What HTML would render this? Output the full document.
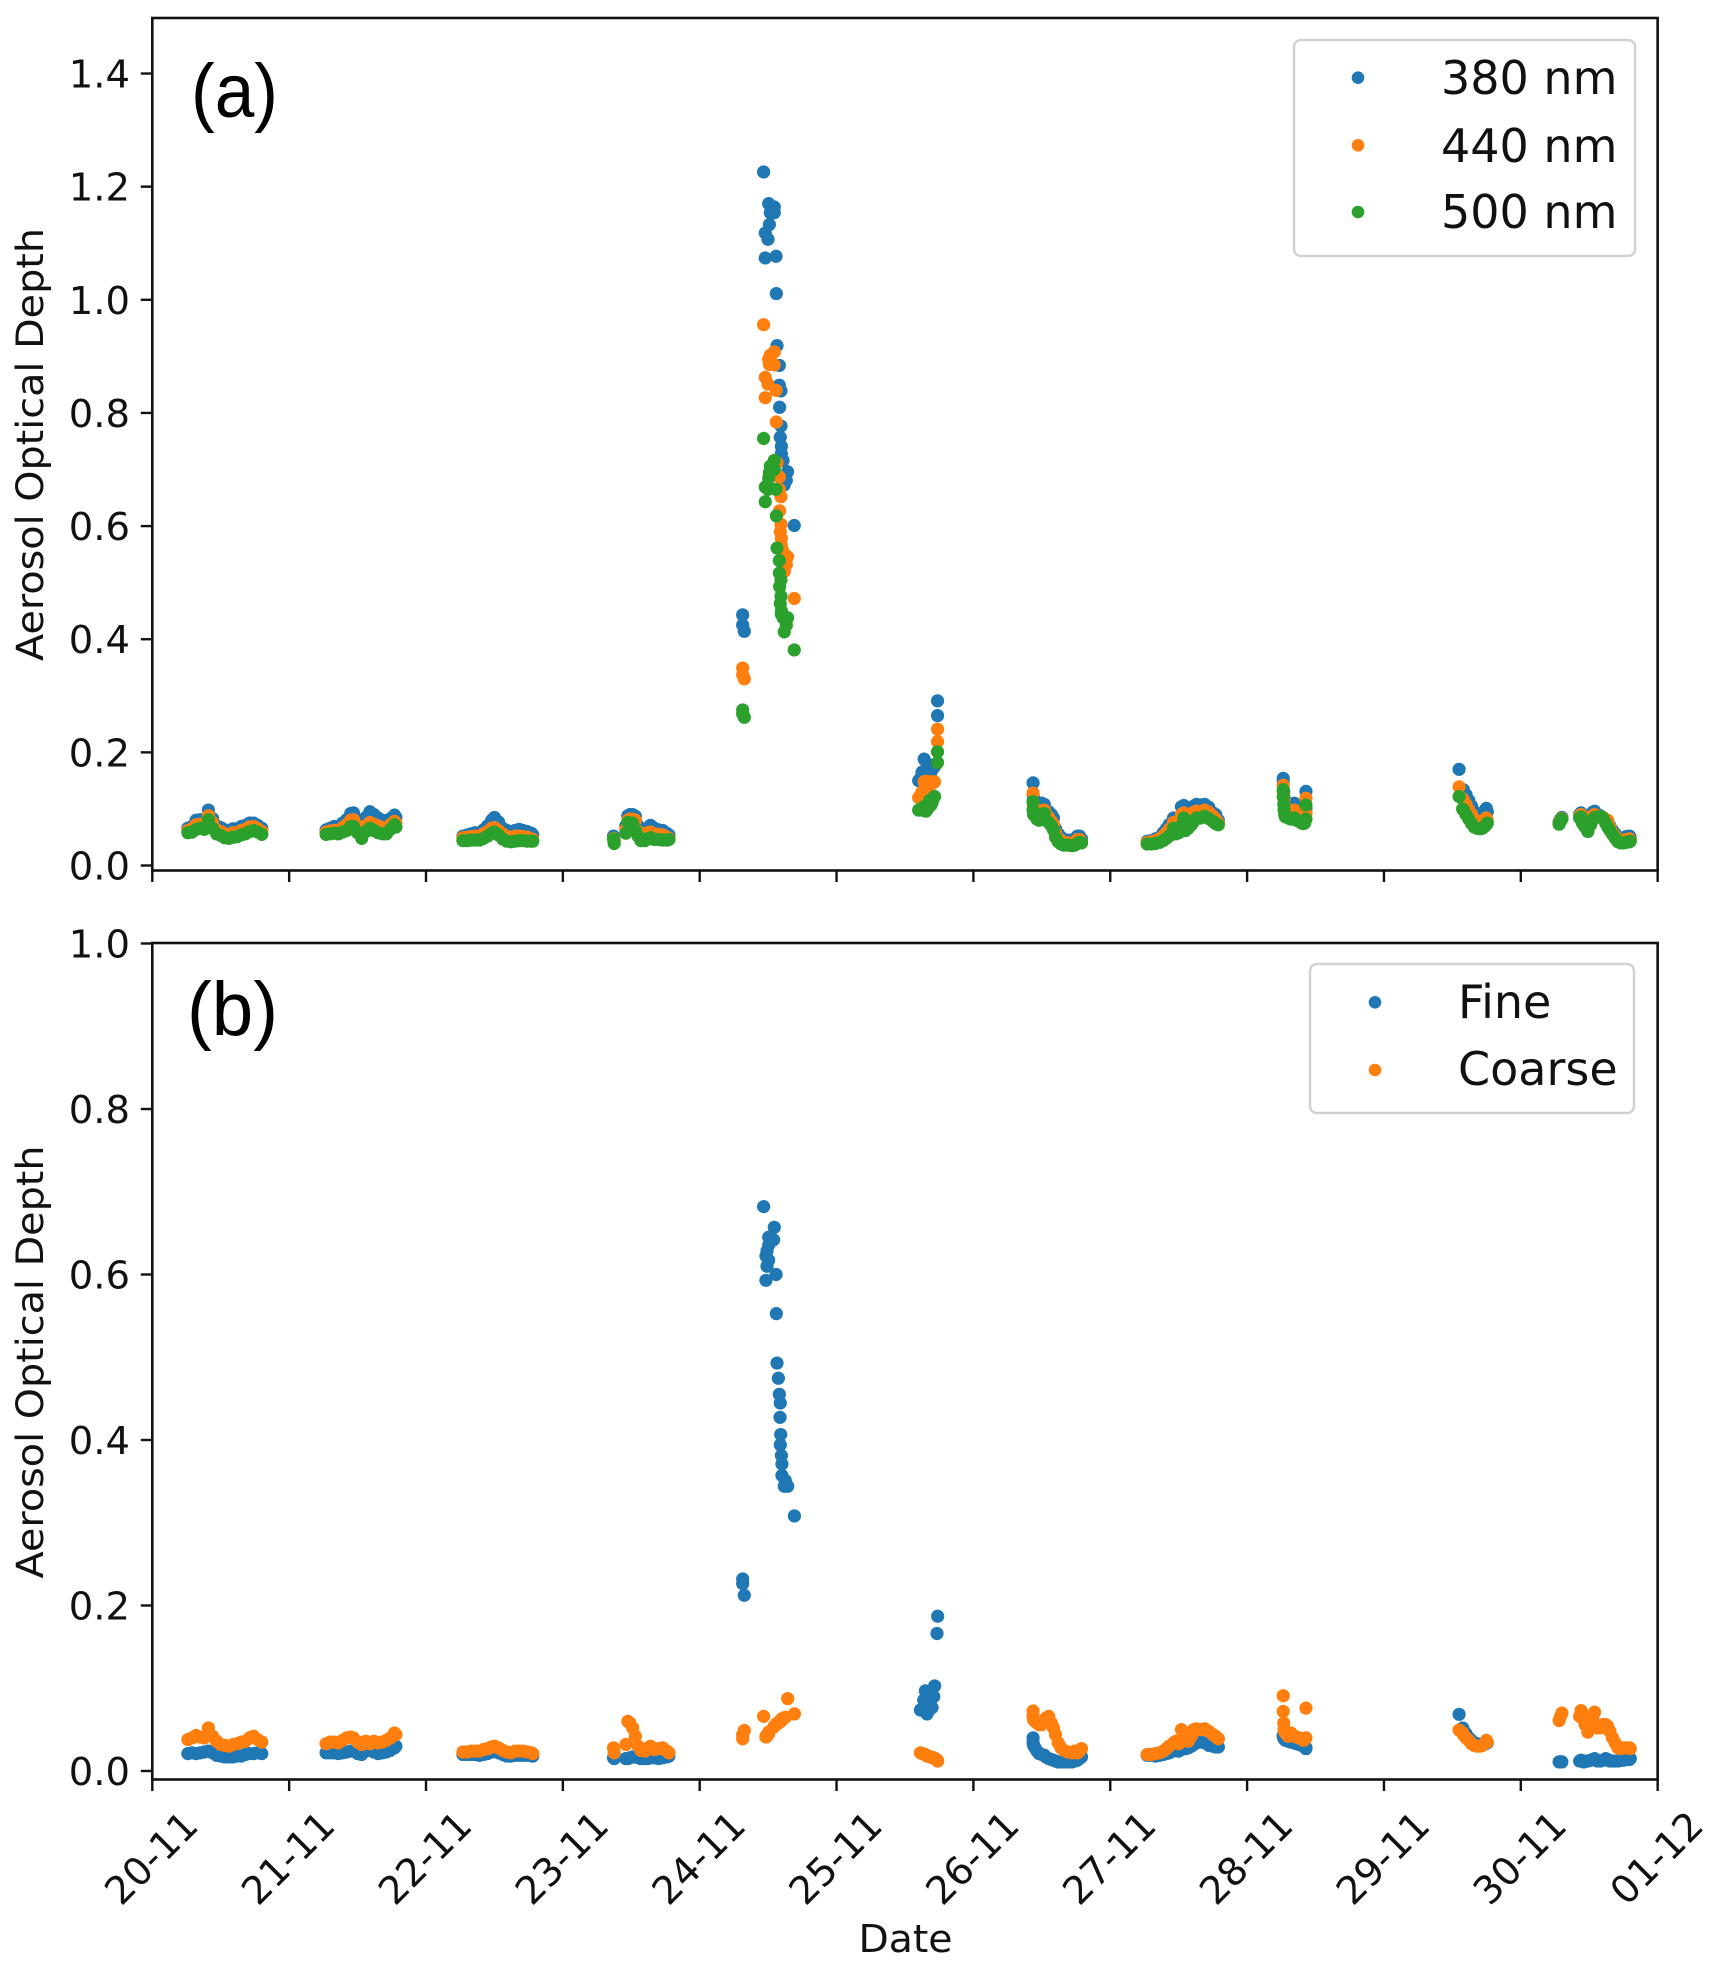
<!DOCTYPE html>
<html lang="en">
<head>
<meta charset="utf-8">
<title>Aerosol Optical Depth</title>
<style>
html,body{margin:0;padding:0;background:#fff;}
svg{display:block;}
text{font-family:"DejaVu Sans","Liberation Sans",sans-serif;fill:#111;}
</style>
</head>
<body>
<svg id="chart" xmlns="http://www.w3.org/2000/svg" width="1721" height="1971" viewBox="0 0 1721 1971">
  <rect x="0" y="0" width="1721" height="1971" fill="#ffffff"/>
  <g id="panelA"></g>
  <g id="panelB"></g>
</svg>
<script>
// Axis labels
const dateLabels = ["20-11","21-11","22-11","23-11","24-11","25-11","26-11","27-11","28-11","29-11","30-11","01-12"];
const yTicksA = [0,0.2,0.4,0.6,0.8,1.0,1.2,1.4];
const yTicksB = [0,0.2,0.4,0.6,0.8,1.0];
const seriesNamesA = ["380 nm","440 nm","500 nm"];
const seriesNamesB = ["Fine","Coarse"];

// Panel (a): time in days since 20-11, one line per observing period
const timesA = [
 .26,.29,.32,.35,.38,.41,.44,.47,.50,.53,.56,.59,.62,.65,.68,.71,.74,.77,.80,
 1.27,1.30,1.33,1.36,1.39,1.42,1.45,1.47,1.50,1.53,1.56,1.59,1.62,1.65,1.68,1.71,1.74,1.77,1.78,
 2.27,2.30,2.33,2.36,2.39,2.42,2.45,2.48,2.50,2.53,2.56,2.59,2.62,2.65,2.68,2.71,2.74,2.77,2.78,
 3.37,3.375,3.46,3.475,3.49,3.51,3.53,3.55,3.57,3.60,3.62,3.64,3.67,3.70,3.73,3.76,3.775,
 4.314,4.314,4.326,4.467,4.504,4.545,4.516,4.545,4.509,4.479,4.499,4.479,4.558,4.560,4.565,4.582,4.582,4.594,4.584,4.594,4.589,4.597,4.597,4.609,4.642,4.633,4.618,4.691,
 5.60,5.615,5.625,5.64,5.653,5.665,5.68,5.69,5.70,5.716,5.738,5.738,
 6.436,6.436,6.44,6.45,6.465,6.48,6.50,6.518,6.53,6.55,6.57,6.585,6.60,6.62,6.64,6.66,6.69,6.72,6.74,6.76,6.775,6.79,
 7.27,7.30,7.33,7.36,7.387,7.41,7.43,7.462,7.48,7.50,7.52,7.537,7.55,7.57,7.593,7.61,7.63,7.66,7.69,7.72,7.75,7.77,7.78,7.79,
 8.264,8.264,8.268,8.27,8.275,8.28,8.30,8.32,8.345,8.36,8.38,8.40,8.41,8.42,8.43,8.43,
 9.549,9.575,9.58,9.60,9.62,9.64,9.66,9.68,9.70,9.72,9.74,9.748,9.755,
 10.28,10.29,10.30,10.43,10.44,10.45,10.46,10.47,10.49,10.51,10.525,10.539,10.56,10.58,10.60,10.62,10.635,10.651,10.67,10.69,10.71,10.73,10.75,10.77,10.794,10.80
];
const aod380 = [
 .066,.069,.080,.081,.076,.098,.083,.070,.067,.063,.062,.065,.065,.069,.071,.075,.075,.071,.066,
 .063,.066,.069,.068,.075,.081,.092,.093,.080,.066,.085,.095,.090,.084,.080,.078,.083,.089,.085,
 .052,.054,.056,.058,.058,.063,.070,.080,.085,.077,.066,.062,.060,.062,.064,.062,.060,.057,.054,
 .052,.045,.070,.088,.090,.090,.087,.070,.060,.060,.066,.071,.066,.063,.062,.057,.054,
 .443,.425,.414,1.226,1.170,1.164,1.154,1.154,1.133,1.118,1.107,1.074,1.077,1.011,.919,.884,.849,.839,.810,.777,.757,.741,.728,.716,.696,.681,.673,.601,
 .150,.155,.165,.188,.170,.160,.178,.165,.170,.175,.265,.291,
 .146,.125,.118,.115,.107,.108,.110,.108,.097,.095,.090,.084,.065,.056,.050,.046,.045,.045,.047,.052,.052,.047,
 .043,.044,.047,.050,.058,.065,.072,.084,.075,.068,.104,.106,.090,.085,.096,.105,.108,.107,.108,.103,.093,.090,.083,.080,
 .154,.148,.130,.120,.115,.108,.103,.102,.110,.095,.095,.090,.088,.088,.100,.131,
 .170,.133,.134,.125,.115,.105,.095,.090,.086,.085,.098,.101,.095,
 .077,.082,.085,.090,.093,.088,.080,.082,.075,.088,.094,.096,.090,.088,.085,.080,.078,.070,.062,.056,.050,.047,.048,.051,.052,.049
];
const aod440 = [
 .062,.065,.072,.073,.070,.088,.076,.063,.060,.056,.055,.058,.058,.062,.064,.068,.069,.065,.060,
 .059,.061,.062,.062,.067,.072,.080,.081,.070,.060,.070,.076,.073,.070,.067,.065,.072,.078,.075,
 .049,.050,.051,.052,.052,.056,.060,.066,.067,.062,.056,.051,.050,.052,.052,.051,.050,.047,.046,
 .048,.042,.064,.080,.082,.082,.080,.060,.055,.052,.058,.059,.056,.055,.054,.050,.048,
 .349,.337,.330,.956,.895,.908,.902,.885,.886,.863,.851,.827,.840,.784,.712,.687,.665,.652,.627,.603,.590,.578,.565,.555,.546,.532,.520,.472,
 .120,.125,.130,.148,.149,.135,.143,.148,.145,.148,.219,.241,
 .128,.110,.104,.100,.096,.095,.097,.098,.090,.085,.078,.072,.058,.048,.044,.040,.040,.039,.041,.046,.046,.041,
 .041,.042,.044,.047,.052,.058,.064,.076,.068,.062,.090,.093,.082,.078,.088,.094,.096,.095,.098,.094,.087,.082,.078,.075,
 .142,.130,.118,.108,.105,.098,.092,.090,.098,.088,.086,.082,.080,.080,.092,.119,
 .139,.118,.116,.108,.098,.090,.082,.078,.074,.075,.082,.084,.080,
 .075,.080,.083,.087,.090,.083,.076,.072,.065,.082,.088,.090,.087,.086,.085,.080,.080,.068,.058,.052,.046,.043,.044,.046,.047,.045
];
const aod500 = [
 .058,.059,.064,.066,.064,.081,.066,.056,.053,.049,.048,.050,.051,.054,.056,.060,.062,.059,.055,
 .055,.056,.057,.056,.059,.062,.069,.069,.058,.048,.060,.066,.062,.058,.056,.056,.064,.072,.068,
 .044,.044,.045,.045,.045,.048,.052,.057,.059,.054,.047,.043,.042,.043,.044,.044,.043,.043,.043,
 .047,.039,.057,.076,.066,.075,.062,.052,.044,.044,.047,.049,.046,.046,.045,.045,.046,
 .275,.268,.262,.755,.684,.716,.706,.700,.694,.669,.665,.643,.665,.618,.561,.539,.517,.505,.493,.476,.463,.450,.444,.438,.438,.425,.413,.381,
 .098,.100,.098,.104,.096,.100,.115,.107,.113,.122,.182,.201,
 .113,.098,.090,.088,.082,.080,.084,.092,.080,.076,.070,.063,.050,.042,.038,.036,.036,.035,.036,.039,.041,.040,
 .038,.038,.039,.041,.044,.048,.052,.066,.056,.058,.070,.084,.062,.066,.072,.078,.084,.084,.087,.083,.078,.074,.073,.072,
 .134,.122,.108,.098,.090,.086,.084,.082,.084,.080,.078,.075,.074,.075,.082,.107,
 .122,.100,.098,.090,.082,.074,.068,.066,.065,.066,.070,.072,.075,
 .073,.078,.082,.084,.086,.075,.072,.068,.060,.072,.080,.085,.086,.086,.084,.075,.068,.062,.055,.048,.042,.040,.040,.041,.042,.043
];

// Panel (b): fine and coarse mode
const timesB = [
 .26,.29,.32,.35,.38,.41,.44,.47,.50,.53,.56,.59,.62,.65,.68,.71,.74,.77,.80,
 1.27,1.30,1.33,1.36,1.39,1.42,1.45,1.47,1.50,1.53,1.56,1.59,1.62,1.65,1.68,1.71,1.74,1.77,1.78,
 2.27,2.30,2.33,2.36,2.39,2.42,2.45,2.48,2.50,2.53,2.56,2.59,2.62,2.65,2.68,2.71,2.74,2.77,2.78,
 3.37,3.375,3.46,3.475,3.49,3.51,3.53,3.55,3.57,3.60,3.62,3.64,3.67,3.70,3.73,3.76,3.775,
 4.314,4.314,4.326,4.467,4.545,4.504,4.540,4.504,4.492,4.484,4.504,4.492,4.558,4.484,4.560,4.565,4.575,4.582,4.589,4.587,4.592,4.589,4.597,4.601,4.601,4.626,4.618,4.643,4.692,
 5.613,5.625,5.637,5.649,5.661,5.67,5.686,5.698,5.71,5.717,5.734,5.739,
 6.436,6.436,6.44,6.45,6.465,6.48,6.50,6.518,6.53,6.55,6.57,6.585,6.60,6.62,6.64,6.66,6.69,6.72,6.74,6.76,6.775,6.79,
 7.27,7.30,7.33,7.36,7.387,7.41,7.43,7.462,7.48,7.50,7.52,7.537,7.55,7.57,7.593,7.61,7.63,7.66,7.69,7.72,7.75,7.77,7.78,7.79,
 8.264,8.264,8.268,8.27,8.275,8.28,8.30,8.32,8.345,8.36,8.38,8.40,8.41,8.42,8.43,8.43,
 9.549,9.575,9.58,9.60,9.62,9.64,9.66,9.68,9.70,9.72,9.74,9.748,9.755,
 10.28,10.29,10.30,10.43,10.44,10.45,10.46,10.47,10.49,10.51,10.525,10.539,10.56,10.58,10.60,10.62,10.635,10.651,10.67,10.69,10.71,10.73,10.75,10.77,10.794,10.80
];
const aodFine = [
 .021,.022,.021,.022,.023,.024,.022,.019,.018,.017,.017,.017,.018,.018,.020,.021,.021,.022,.021,
 .022,.022,.022,.021,.022,.023,.024,.024,.021,.020,.024,.025,.023,.021,.022,.023,.025,.028,.030,
 .020,.020,.020,.020,.019,.020,.021,.023,.024,.022,.020,.018,.018,.019,.019,.019,.019,.019,.018,
 .016,.015,.015,.015,.016,.017,.017,.016,.015,.015,.015,.016,.016,.015,.016,.017,.018,
 .232,.2265,.2124,.682,.657,.645,.642,.6355,.6285,.6225,.6173,.610,.600,.593,.5527,.493,.4746,.4552,.4447,.4274,.4066,.3942,.3812,.371,.3572,.351,.3442,.3442,.3082,
 .0737,.075,.0856,.0968,.069,.072,.0806,.0766,.0899,.1028,.1662,.187,
 .040,.034,.031,.028,.024,.021,.020,.019,.017,.015,.014,.013,.012,.011,.011,.011,.011,.011,.012,.013,.015,.017,
 .019,.019,.018,.019,.020,.021,.022,.024,.025,.024,.026,.027,.027,.028,.030,.032,.034,.035,.034,.031,.030,.029,.029,.029,
 .043,.042,.040,.039,.038,.037,.036,.035,.034,.033,.032,.031,.030,.029,.028,.027,
 .0685,.052,.050,.045,.040,.037,.034,.033,.032,.031,.033,.035,.034,
 .011,.011,.011,.012,.013,.012,.011,.012,.012,.013,.014,.015,.012,.012,.013,.015,.014,.012,.012,.012,.012,.013,.013,.014,.014,.015
];
const aodCoarse = [
 .038,.040,.043,.041,.040,.052,.042,.036,.032,.031,.030,.032,.033,.035,.036,.040,.042,.038,.035,
 .033,.035,.035,.034,.037,.040,.041,.040,.035,.032,.036,.033,.036,.034,.035,.037,.040,.046,.044,
 .023,.023,.024,.024,.024,.026,.027,.029,.030,.028,.025,.023,.022,.024,.024,.024,.023,.022,.021,
 .028,.022,.032,.060,.058,.052,.042,.030,.025,.024,.028,.030,.026,.027,.028,.024,.022,
 .039,.044,.049,.066,.054,.045,.053,.046,.043,.042,.047,.042,.056,.041,.057,.057,.058,.059,.060,.060,.060,.061,.062,.063,.063,.065,.064,.0875,.069,
 .022,.021,.0205,.020,.018,.018,.017,.016,.016,.0155,.0135,.012,
 .0725,.066,.062,.060,.058,.056,.056,.060,.064,.066,.058,.052,.044,.034,.028,.025,.023,.022,.024,.022,.024,.027,
 .020,.020,.021,.022,.024,.027,.030,.034,.036,.033,.050,.046,.040,.036,.042,.050,.051,.050,.051,.048,.044,.042,.040,.039,
 .091,.072,.058,.050,.047,.046,.042,.046,.042,.041,.040,.039,.037,.038,.040,.076,
 .0495,.046,.044,.040,.037,.033,.031,.030,.030,.031,.034,.037,.035,
 .061,.066,.070,.066,.073,.070,.062,.056,.047,.055,.063,.071,.052,.052,.056,.056,.054,.048,.040,.034,.028,.027,.028,.028,.028,.027
];

const SVG_NS = "http://www.w3.org/2000/svg";
const BLUE = "#1f77b4", ORANGE = "#ff7f0e", GREEN = "#2ca02c";
const DOT_R = 6.6;

// Axis functions
function xScale(day){ return 152.3 + 136.85 * day; }
function yScaleA(v){ return 865.5 - 565.7 * v; }
function yScaleB(v){ return 1771 - 827.5 * v; }

function make(tag, attrs, parent, txt){
  const el = document.createElementNS(SVG_NS, tag);
  for (const k in attrs) el.setAttribute(k, attrs[k]);
  if (txt !== undefined) el.textContent = txt;
  parent.appendChild(el);
  return el;
}

function drawAxes(parent, top, bottom, yScale, yTicks, showDates, prefix){
  const left = xScale(0), right = xScale(11);
  dateLabels.forEach(function(lbl, i){
    const x = xScale(i);
    const tick = make("line", {x1:x, x2:x, y1:bottom, y2:bottom + 11.5, stroke:"#111", "stroke-width":2.4}, parent);
    
    
    if (showDates) {
      const cx = x - 1.5, cy = 1857.5;
      const t = make("text", {x:cx, y:cy + 14, "text-anchor":"middle", "font-size":38.5,
        transform:"rotate(-45 " + cx + " " + cy + ")"}, parent, lbl);
      
      
    }
  });
  yTicks.forEach(function(v){
    const y = yScale(v);
    const tick = make("line", {x1:left - 11.5, x2:left, y1:y, y2:y, stroke:"#111", "stroke-width":2.4}, parent);
    
    
    const t = make("text", {x:130, y:y + 14, "text-anchor":"end", "font-size":38.5}, parent, v.toFixed(1));
    
    
  });
  const frame = make("rect", {x:left, y:top, width:right - left, height:bottom - top, fill:"none", stroke:"#111", "stroke-width":2.6}, parent);
  
  
}

function drawSeries(parent, times, values, yScale, color, name){
  const g = make("g", {fill:color}, parent);
  
  
  times.forEach(function(t, i){
    const c = make("circle", {cx:xScale(t), cy:yScale(values[i]), r:DOT_R}, g);
    
    
  });
}

function drawLegend(parent, box, entries, prefix){
  const g = make("g", {}, parent);
  
  
  const r = make("rect", {x:box.x, y:box.y, width:box.w, height:box.h, rx:7, ry:7, fill:"#fff", stroke:"#d2d2d2", "stroke-width":2.5}, g);
  
  
  entries.forEach(function(e){
    const c = make("circle", {cx:box.dotX, cy:e.dotY, r:6.3, fill:e.color}, g);
    
    
    const t = make("text", {x:box.textX, y:e.base, "font-size":46}, g, e.label);
    
    
  });
}

function drawYTitle(parent, cy, prefix){
  const t = make("text", {x:43, y:cy, "text-anchor":"middle", "font-size":37, textLength:433,
    lengthAdjust:"spacingAndGlyphs", transform:"rotate(-90 43 " + cy + ")"}, parent, "Aerosol Optical Depth");
  
  
}

function drawPanelLabel(parent, x, y, width, label, prefix){
  const t = make("text", {x:x, y:y, "font-size":76, textLength:width, lengthAdjust:"spacingAndGlyphs",
    style:'font-family:"Liberation Sans",sans-serif;fill:#000'}, parent, label);
  
  
}

const panelA = document.getElementById("panelA");
const panelB = document.getElementById("panelB");

drawAxes(panelA, 18, 870.5, yScaleA, yTicksA, false, 'panel-a');
drawSeries(panelA, timesA, aod380, yScaleA, BLUE, 'aod-380');
drawSeries(panelA, timesA, aod440, yScaleA, ORANGE, 'aod-440');
drawSeries(panelA, timesA, aod500, yScaleA, GREEN, 'aod-500');
drawYTitle(panelA, 444.5, 'panel-a');
drawPanelLabel(panelA, 191, 117, 87, "(a)", 'panel-a');
drawLegend(panelA, {x:1294, y:40, w:341, h:216, dotX:1358, textX:1441}, [
  {label:seriesNamesA[0], color:BLUE, dotY:77.7, base:94},
  {label:seriesNamesA[1], color:ORANGE, dotY:145.3, base:162},
  {label:seriesNamesA[2], color:GREEN, dotY:212, base:228}
], 'panel-a');

drawAxes(panelB, 943, 1779.5, yScaleB, yTicksB, true, 'panel-b');
drawSeries(panelB, timesB, aodFine, yScaleB, BLUE, 'aod-fine');
drawSeries(panelB, timesB, aodCoarse, yScaleB, ORANGE, 'aod-coarse');
drawYTitle(panelB, 1362, 'panel-b');
drawPanelLabel(panelB, 187, 1035, 91, "(b)", 'panel-b');
drawLegend(panelB, {x:1310, y:964, w:324, h:149, dotX:1375, textX:1458}, [
  {label:seriesNamesB[0], color:BLUE, dotY:1002.3, base:1018},
  {label:seriesNamesB[1], color:ORANGE, dotY:1070, base:1085}
], 'panel-b');

const xTitle = make("text", {x:905.5, y:1952, "text-anchor":"middle", "font-size":38, textLength:94, lengthAdjust:"spacingAndGlyphs"}, panelB, "Date");


</script>
</body>
</html>
